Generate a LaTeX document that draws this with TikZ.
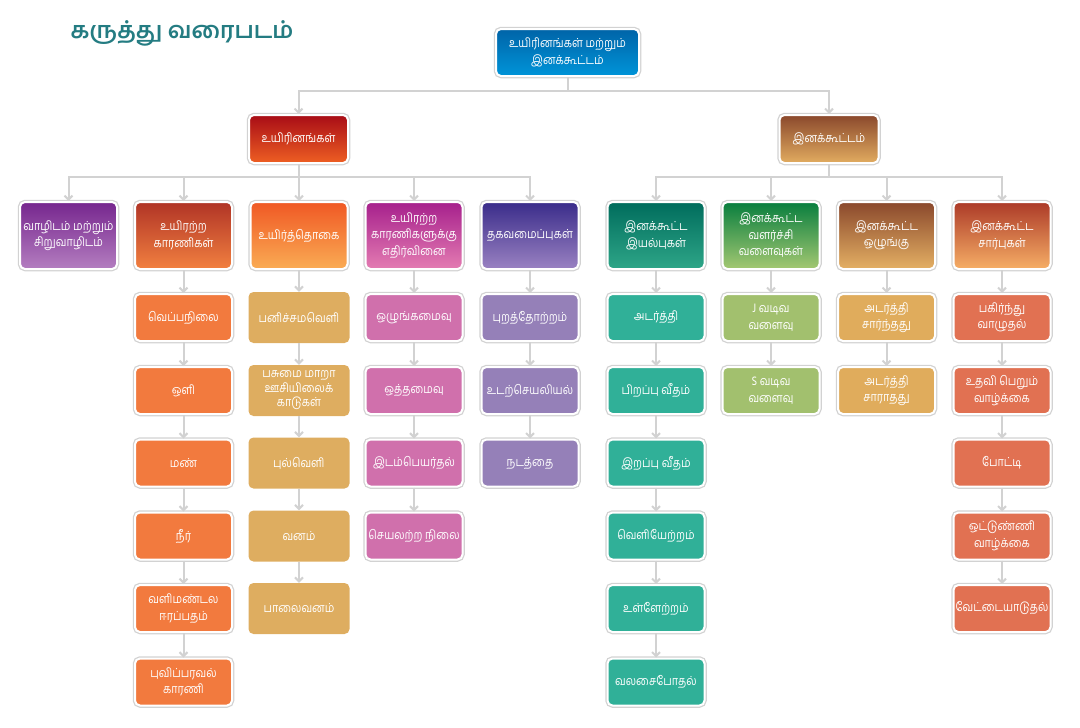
\documentclass[tikz,border=0pt]{standalone}
\usepackage{fontspec}
\newfontfamily\tamil[Script=Tamil, FakeStretch=0.86]{Hind Madurai}
\newfontfamily\tamiltitle[Script=Tamil]{Hind Madurai}
\usetikzlibrary{arrows.meta}

\definecolor{linkgray}{RGB}{210,210,210}
\definecolor{titleteal}{RGB}{36,124,130}
\definecolor{leafA}{RGB}{242,122,62}
\definecolor{leafB}{RGB}{222,173,96}
\definecolor{leafC}{RGB}{208,112,172}
\definecolor{leafD}{RGB}{149,128,184}
\definecolor{leafE}{RGB}{48,176,152}
\definecolor{leafF}{RGB}{162,192,110}
\definecolor{leafG}{RGB}{224,172,92}
\definecolor{leafH}{RGB}{225,113,82}

\tikzset{
  plain/.style={rounded corners=5pt, text=white, align=center,
    font=\tamil\fontsize{12.5}{16.5}\selectfont, inner sep=1pt},
  box/.style={plain, draw=white, line width=2pt,
    preaction={draw=linkgray, line width=4.5pt},
    minimum width=97pt, minimum height=47pt},
  head/.style={box, minimum height=67pt},
  bare/.style={plain, minimum width=101pt, minimum height=51pt},
  link/.style={draw=linkgray, line width=2pt},
  down/.style={link, -{Straight Barb[length=4pt,width=8pt]}}
}

\begin{document}
\begin{tikzpicture}[x=1pt,y=-1pt]
  \useasboundingbox (0,0) rectangle (1080,728);

  \node[font=\tamiltitle\bfseries\fontsize{23}{26}\selectfont, text=titleteal] (title) at (182,33) {கருத்து வரைபடம்};

  \node[box, minimum width=143pt, top color={rgb,255:red,0;green,100;blue,168}, bottom color={rgb,255:red,0;green,148;blue,216}] (root) at (567.5,52.5) {உயிரினங்கள் மற்றும்\\இனக்கூட்டம்};

  \node[box, minimum width=99pt, minimum height=48pt, top color={rgb,255:red,168;green,12;blue,22}, bottom color={rgb,255:red,238;green,95;blue,35}] (org) at (298.5,139) {உயிரினங்கள்};
  \node[box, minimum width=99pt, minimum height=48pt, top color={rgb,255:red,138;green,72;blue,44}, bottom color={rgb,255:red,226;green,172;blue,96}] (pop) at (829,139) {இனக்கூட்டம்};

  % உயிரினங்கள் - columns
  \node[head, top color={rgb,255:red,118;green,38;blue,142}, bottom color={rgb,255:red,180;green,126;blue,192}] (hab) at (68.5,235.5) {வாழிடம் மற்றும்\\சிறுவாழிடம்};
  \node[head, top color={rgb,255:red,176;green,52;blue,38}, middle color={rgb,255:red,214;green,68;blue,40}, bottom color={rgb,255:red,242;green,128;blue,64}] (abio) at (183.5,235.5) {உயிரற்ற\\காரணிகள்};
  \node[head, top color={rgb,255:red,240;green,88;blue,36}, bottom color={rgb,255:red,250;green,172;blue,84}] (biome) at (299,235.5) {உயிர்த்தொகை};
  \node[head, top color={rgb,255:red,166;green,32;blue,140}, middle color={rgb,255:red,200;green,30;blue,128}, bottom color={rgb,255:red,228;green,124;blue,178}] (resp) at (414,235.5) {உயிரற்ற\\காரணிகளுக்கு\\எதிர்வினை};
  \node[head, top color={rgb,255:red,58;green,44;blue,138}, bottom color={rgb,255:red,154;green,130;blue,194}] (adapt) at (530,235.5) {தகவமைப்புகள்};

  % இனக்கூட்டம் - columns
  \node[head, top color={rgb,255:red,0;green,108;blue,92}, bottom color={rgb,255:red,46;green,166;blue,136}] (prop) at (656,235.5) {இனக்கூட்ட\\இயல்புகள்};
  \node[head, top color={rgb,255:red,8;green,126;blue,62}, bottom color={rgb,255:red,164;green,200;blue,114}] (grow) at (771,235.5) {இனக்கூட்ட\\வளர்ச்சி\\வளைவுகள்};
  \node[head, top color={rgb,255:red,138;green,72;blue,44}, bottom color={rgb,255:red,228;green,176;blue,100}] (reg) at (886.5,235.5) {இனக்கூட்ட\\ஒழுங்கு};
  \node[head, top color={rgb,255:red,172;green,58;blue,40}, middle color={rgb,255:red,226;green,98;blue,60}, bottom color={rgb,255:red,246;green,174;blue,102}] (inter) at (1002,235.5) {இனக்கூட்ட\\சார்புகள்};

  % leaves
  \node[box, fill=leafA] (a1) at (183.5,317.5) {வெப்பநிலை};
  \node[box, fill=leafA] (a2) at (183.5,390.5) {ஒளி};
  \node[box, fill=leafA] (a3) at (183.5,463) {மண்};
  \node[box, fill=leafA] (a4) at (183.5,536) {நீர்};
  \node[box, fill=leafA] (a5) at (183.5,608.5) {வளிமண்டல\\ஈரப்பதம்};
  \node[box, fill=leafA] (a6) at (183.5,682) {புவிப்பரவல்\\காரணி};

  \node[bare, fill=leafB] (b1) at (299,317.5) {பனிச்சமவெளி};
  \node[bare, fill=leafB, font=\tamil\fontsize{12.5}{14.5}\selectfont] (b2) at (299,390.5) {பசுமை மாறா\\ஊசியிலைக்\\காடுகள்};
  \node[bare, fill=leafB] (b3) at (299,463) {புல்வெளி};
  \node[bare, fill=leafB] (b4) at (299,536) {வனம்};
  \node[bare, fill=leafB] (b5) at (299,608.5) {பாலைவனம்};

  \node[box, fill=leafC] (c1) at (414,317.5) {ஒழுங்கமைவு};
  \node[box, fill=leafC] (c2) at (414,390.5) {ஒத்தமைவு};
  \node[box, fill=leafC] (c3) at (414,463) {இடம்பெயர்தல்};
  \node[box, fill=leafC] (c4) at (414,536) {செயலற்ற நிலை};

  \node[box, fill=leafD] (d1) at (530,317.5) {புறத்தோற்றம்};
  \node[box, fill=leafD] (d2) at (530,390.5) {உடற்செயலியல்};
  \node[box, fill=leafD] (d3) at (530,463) {நடத்தை};

  \node[box, fill=leafE] (e1) at (656,317.5) {அடர்த்தி};
  \node[box, fill=leafE] (e2) at (656,390.5) {பிறப்பு வீதம்};
  \node[box, fill=leafE] (e3) at (656,463) {இறப்பு வீதம்};
  \node[box, fill=leafE] (e4) at (656,536) {வெளியேற்றம்};
  \node[box, fill=leafE] (e5) at (656,608.5) {உள்ளேற்றம்};
  \node[box, fill=leafE] (e6) at (656,682) {வலசைபோதல்};

  \node[box, fill=leafF] (f1) at (771,317.5) {J வடிவ\\வளைவு};
  \node[box, fill=leafF] (f2) at (771,390.5) {S வடிவ\\வளைவு};

  \node[box, fill=leafG] (g1) at (886.5,317.5) {அடர்த்தி\\சார்ந்தது};
  \node[box, fill=leafG] (g2) at (886.5,390.5) {அடர்த்தி\\சாராதது};

  \node[box, fill=leafH] (h1) at (1002,317.5) {பகிர்ந்து\\வாழுதல்};
  \node[box, fill=leafH] (h2) at (1002,390.5) {உதவி பெறும்\\வாழ்க்கை};
  \node[box, fill=leafH] (h3) at (1002,463) {போட்டி};
  \node[box, fill=leafH] (h4) at (1002,536) {ஒட்டுண்ணி\\வாழ்க்கை};
  \node[box, fill=leafH] (h5) at (1002,608.5) {வேட்டையாடுதல்};

  % tree links
  \draw[down] (root.south) -- ++(0,13.5) -| (org.north);
  \draw[down] (root.south) -- ++(0,13.5) -| (pop.north);

  \draw[down] (org.south) -- ++(0,12.5) -| (hab.north);
  \draw[down] (org.south) -- ++(0,12.5) -| (abio.north);
  \draw[down] (org.south) -- ++(0,12.5) -| (biome.north);
  \draw[down] (org.south) -- ++(0,12.5) -| (resp.north);
  \draw[down] (org.south) -- ++(0,12.5) -| (adapt.north);

  \draw[down] (pop.south) -- ++(0,12.5) -| (prop.north);
  \draw[down] (pop.south) -- ++(0,12.5) -| (grow.north);
  \draw[down] (pop.south) -- ++(0,12.5) -| (reg.north);
  \draw[down] (pop.south) -- ++(0,12.5) -| (inter.north);

  % chains
  \draw[down] (abio) -- (a1);
  \draw[down] (a1) -- (a2);
  \draw[down] (a2) -- (a3);
  \draw[down] (a3) -- (a4);
  \draw[down] (a4) -- (a5);
  \draw[down] (a5) -- (a6);

  \draw[down] (biome) -- (b1);
  \draw[down] (b1) -- (b2);
  \draw[down] (b2) -- (b3);
  \draw[down] (b3) -- (b4);
  \draw[down] (b4) -- (b5);

  \draw[down] (resp) -- (c1);
  \draw[down] (c1) -- (c2);
  \draw[down] (c2) -- (c3);
  \draw[down] (c3) -- (c4);

  \draw[down] (adapt) -- (d1);
  \draw[down] (d1) -- (d2);
  \draw[down] (d2) -- (d3);

  \draw[down] (prop) -- (e1);
  \draw[down] (e1) -- (e2);
  \draw[down] (e2) -- (e3);
  \draw[down] (e3) -- (e4);
  \draw[down] (e4) -- (e5);
  \draw[down] (e5) -- (e6);

  \draw[down] (grow) -- (f1);
  \draw[down] (f1) -- (f2);

  \draw[down] (reg) -- (g1);
  \draw[down] (g1) -- (g2);

  \draw[down] (inter) -- (h1);
  \draw[down] (h1) -- (h2);
  \draw[down] (h2) -- (h3);
  \draw[down] (h3) -- (h4);
  \draw[down] (h4) -- (h5);
\end{tikzpicture}
\end{document}
